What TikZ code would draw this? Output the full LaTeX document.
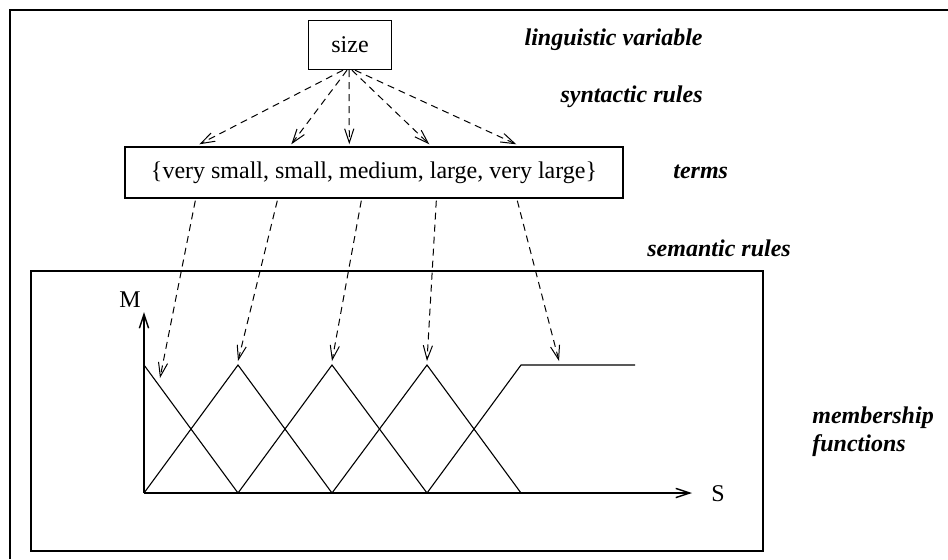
\documentclass[tikz,border=0pt]{standalone}
\usepackage{fontspec}
\setmainfont{Liberation Serif}
\usetikzlibrary{arrows.meta,positioning,calc}

\tikzset{
  termbox/.style={draw,line width=0.7pt,inner sep=0pt,font=\fontsize{12}{14}\selectfont},
  rulelabel/.style={font=\fontsize{12}{14}\selectfont\bfseries\itshape,inner sep=0pt},
  rulearrow/.style={->,line width=0.5pt,dash pattern=on 3.5pt off 2.5pt},
  mfline/.style={line width=0.55pt},
  >={Straight Barb[length=7pt,width=4.6pt]}
}

\begin{document}
\begin{tikzpicture}[x=0.5pt,y=-0.5pt]
  \useasboundingbox (0,0) rectangle (948,559);
  \draw[line width=1.3pt] (10,559) -- (10,10) -- (948,10); % outer frame

  % linguistic variable and its terms
  \node[termbox,minimum width=41.5pt,minimum height=24.5pt] (size) at (350,45) {size};
  \node[termbox,minimum width=249pt,minimum height=25.5pt] (terms) at (374,172.5)
    {\{very small, small, medium, large, very large\}};

  % syntactic rules
  \foreach \sx/\tx in {-7/75, -3/167, -1/225, 2/305, 5/392}
    \draw[rulearrow] ([xshift=\sx*0.5pt]size.south) -- ([xshift=\tx*0.5pt,yshift=1pt]terms.north west);

  % plot frame and axes
  \draw[line width=0.6pt] (31,271) rectangle (763,551);
  \coordinate (o) at (144,493);
  \draw[->,line width=0.7pt] (o) -- (144,312);
  \draw[->,line width=0.7pt] (o) -- (692,493);
  \node[font=\fontsize{12}{14}\selectfont] (mlab) at (130,300) {M};
  \node[font=\fontsize{12}{14}\selectfont] (slab) at (718,494) {S};

  % membership functions
  \foreach \i/\x in {1/144, 2/238, 3/332, 4/427, 5/521} {
    \coordinate (m\i) at (\x,365);
    \coordinate (b\i) at (\x,493);
  }
  \coordinate (b6) at (615,493);
  \coordinate (e5) at (635,365);
  \draw[mfline] (m1) -- (b2);
  \draw[mfline] (b1) -- (m2) -- (b3);
  \draw[mfline] (b2) -- (m3) -- (b4);
  \draw[mfline] (b3) -- (m4) -- (b5);
  \draw[mfline] (b4) -- (m5) -- (e5);

  % semantic rules
  \draw[rulearrow] ([xshift=35.5pt,yshift=-1pt]terms.south west) -- ([shift={(16,13)}]m1);
  \draw[rulearrow] ([xshift=76.5pt,yshift=-1pt]terms.south west) -- ([shift={(0,-4)}]m2);
  \draw[rulearrow] ([xshift=118.5pt,yshift=-1pt]terms.south west) -- ([shift={(0,-4)}]m3);
  \draw[rulearrow] ([xshift=156pt,yshift=-1pt]terms.south west) -- ([shift={(0,-4)}]m4);
  \draw[rulearrow] ([xshift=196.5pt,yshift=-1pt]terms.south west) -- ([shift={(38,-4)}]m5);

  % labels
  \node[rulelabel,anchor=east] (lvar) at (703,40) {linguistic variable};
  \node[rulelabel,anchor=east] (synr) at (703,97) {syntactic rules};
  \node[rulelabel,anchor=west] (tlab) at (673,172) {terms};
  \node[rulelabel,anchor=west] (semr) at (647,248) {semantic rules};
  \node[rulelabel,anchor=west,align=left] (mfun) at (812,432) {membership\\functions};
\end{tikzpicture}
\end{document}
